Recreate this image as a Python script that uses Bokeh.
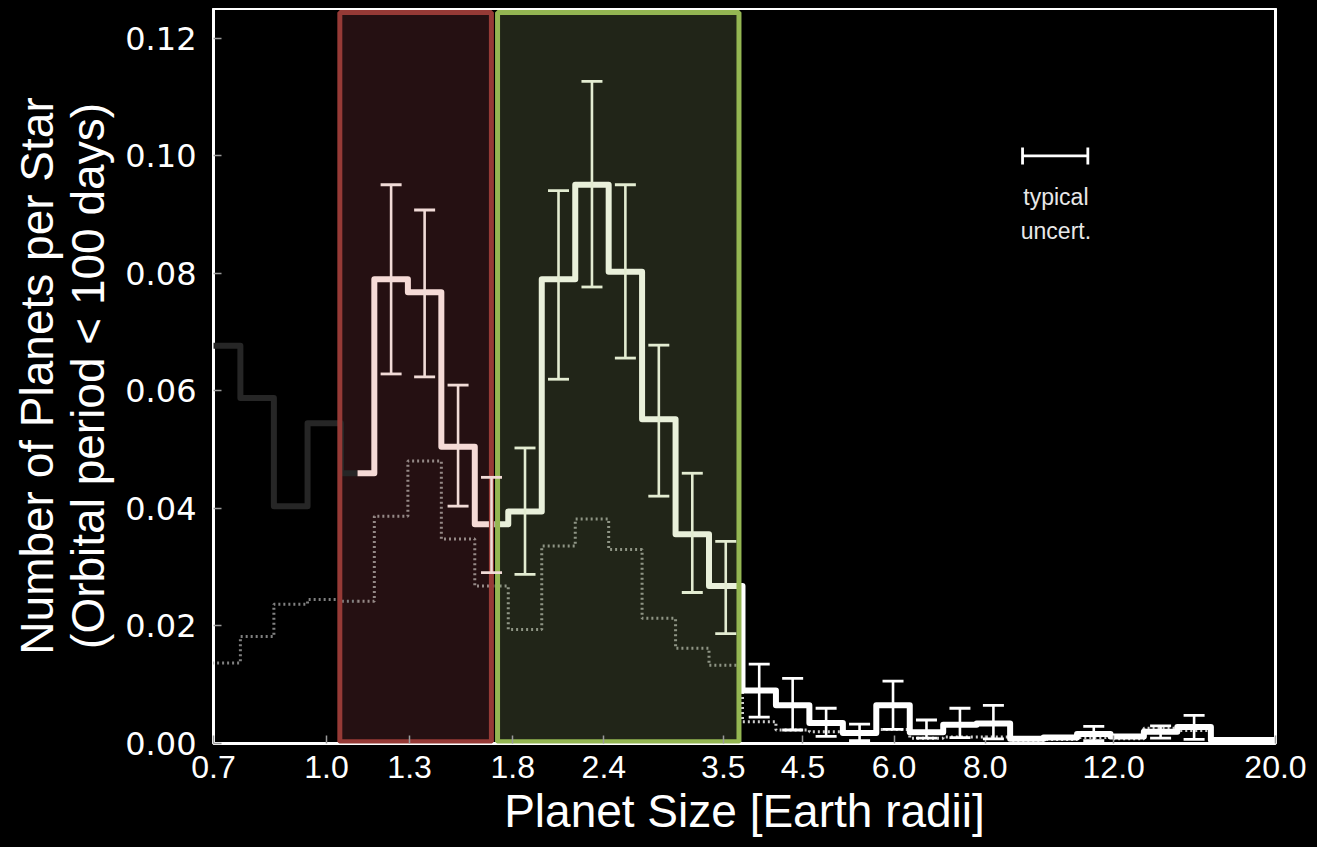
import numpy as np
from bokeh.plotting import figure
from bokeh.models import (FixedTicker, ColumnDataSource, Whisker, TeeHead,
                          Range1d, NumeralTickFormatter)
from bokeh.embed import file_html
from bokeh.resources import INLINE
from bokeh.core.properties import value

# ---------------- data ----------------
bin_edges = [0.686, 0.762, 0.847, 0.942, 1.047, 1.163, 1.293, 1.437, 1.597, 1.775,
             1.973, 2.193, 2.437, 2.708, 3.010, 3.345, 3.718, 4.132, 4.592, 5.104,
             5.672, 6.304, 7.006, 7.787, 8.654, 9.618, 10.69, 11.88, 13.20, 14.67,
             16.31, 18.12, 20.14]

completeness_corrected = [0.0677, 0.0588, 0.0404, 0.0545, 0.0460, 0.0790, 0.0768, 0.0505,
                          0.0373, 0.0395, 0.0790, 0.0951, 0.0803, 0.0552, 0.0356, 0.0268,
                          0.0090, 0.0065, 0.0035, 0.0018, 0.0065, 0.0019, 0.0032, 0.0034,
                          0.0008, 0.0010, 0.0016, 0.0012, 0.0020, 0.0028, 0.0006, 0.0006]

observed = [0.0137, 0.0182, 0.0237, 0.0245, 0.0242, 0.0387, 0.0481, 0.0348,
            0.0268, 0.0194, 0.0336, 0.0382, 0.0330, 0.0213, 0.0162, 0.0133,
            0.0037, 0.0023, 0.0020, 0.0016, 0.0024, 0.0009, 0.0011, 0.0011,
            0.0005, 0.0007, 0.0010, 0.0008, 0.0026, 0.0022, 0.0004, 0.0004]

err_bins = [5, 6, 7, 8, 9, 10, 11, 12, 13, 14, 15, 16, 17, 18, 19, 20, 21, 22, 23, 26, 28, 29]
err_low = [0.0629, 0.0624, 0.0404, 0.0291, 0.0288, 0.0620, 0.0777, 0.0656, 0.0421, 0.0257,
           0.0187, 0.0045, 0.0023, 0.0012, 0.0005, 0.0024, 0.0009, 0.0010, 0.0008, 0.0005,
           0.0009, 0.0007]
err_high = [0.0951, 0.0908, 0.0610, 0.0453, 0.0503, 0.0941, 0.1127, 0.0951, 0.0678, 0.0460,
            0.0344, 0.0135, 0.0111, 0.0060, 0.0033, 0.0106, 0.0040, 0.0060, 0.0065, 0.0029,
            0.0030, 0.0048]

x_ticks = [0.7, 1.0, 1.3, 1.8, 2.4, 3.5, 4.5, 6.0, 8.0, 12.0, 20.0]
x_tick_labels = ["0.7", "1.0", "1.3", "1.8", "2.4", "3.5", "4.5", "6.0", "8.0", "12.0", "20.0"]
y_ticks = [0.0, 0.02, 0.04, 0.06, 0.08, 0.10, 0.12]

# highlighted regions (super-Earths / sub-Neptunes)
red_region = (1.043, 1.683)
green_region = (1.716, 3.677)
color_breaks = [0.5, 1.103, 1.70, 3.68, 25.0]

typical_center = 10.0
typical_lo, typical_hi = 9.0, 11.06
typical_y = 0.100

# ---------------- figure ----------------
X0, X1 = 0.7, 20.0
Y0, Y1 = 0.0, 0.1251

p = figure(width=1305, height=831, x_axis_type="log",
           x_range=Range1d(X0, X1), y_range=Range1d(Y0, Y1),
           output_backend="svg", toolbar_location=None,
           background_fill_color="black", border_fill_color="black",
           min_border_top=0, min_border_right=38, min_border_left=203, min_border_bottom=10)
p.xgrid.visible = False
p.ygrid.visible = False
p.outline_line_color = "white"
p.outline_line_width = 3
p.outline_line_alpha = 1.0

# region fills
p.quad(left=[red_region[0]], right=[red_region[1]], bottom=[0.0003], top=[0.1244],
       fill_color="#251012", line_color=None)
p.quad(left=[green_region[0]], right=[green_region[1]], bottom=[0.0003], top=[0.1244],
       fill_color="#212518", line_color=None)


def step_path(edges, vals, a, b):
    xs, ys = [], []
    for i, v in enumerate(vals):
        lo, hi = max(edges[i], a), min(edges[i + 1], b)
        if hi <= lo:
            continue
        xs += [lo, hi]
        ys += [v, v]
    return xs, ys


# dotted observed histogram
dot_cols = ["#808080", "#958987", "#8f9585", "#cfcfcf"]
for k, c in enumerate(dot_cols):
    xs, ys = step_path(bin_edges, observed, color_breaks[k], color_breaks[k + 1])
    p.line(xs, ys, line_color=c, line_width=3, line_dash="2 3")

# solid corrected histogram
line_cols = ["#262626", "#f5dad6", "#e9f0da", "#ffffff"]
for k, c in enumerate(line_cols):
    xs, ys = step_path(bin_edges, completeness_corrected, color_breaks[k], color_breaks[k + 1])
    p.line(xs, ys, line_color=c, line_width=6, line_join="round")

# error bars
centers = [float(np.sqrt(bin_edges[i] * bin_edges[i + 1])) for i in err_bins]


def err_color(x):
    if x < color_breaks[2]:
        return "#f1dbd7"
    if x < color_breaks[3]:
        return "#e3ecd1"
    return "#ffffff"


for col in ["#f1dbd7", "#e3ecd1", "#ffffff"]:
    idx = [j for j, c in enumerate(centers) if err_color(c) == col]
    src = ColumnDataSource(dict(x=[centers[j] for j in idx],
                                lo=[err_low[j] for j in idx],
                                hi=[err_high[j] for j in idx]))
    w = Whisker(base="x", lower="lo", upper="hi", source=src, dimension="height",
                line_color=col, line_width=2.6, level="annotation",
                upper_head=TeeHead(size=21, line_color=col, line_width=2.8),
                lower_head=TeeHead(size=21, line_color=col, line_width=2.8))
    p.add_layout(w)

# region borders on top
p.quad(left=[red_region[0]], right=[red_region[1]], bottom=[0.0003], top=[0.1244],
       fill_color=None, line_color="#963a36", line_width=5)
p.quad(left=[green_region[0]], right=[green_region[1]], bottom=[0.0003], top=[0.1244],
       fill_color=None, line_color="#94b652", line_width=5)

# typical uncertainty
tsrc = ColumnDataSource(dict(y=[typical_y], lo=[typical_lo], hi=[typical_hi]))
p.add_layout(Whisker(base="y", lower="lo", upper="hi", source=tsrc, dimension="width",
                     line_color="white", line_width=2.8, level="annotation",
                     upper_head=TeeHead(size=17, line_color="white", line_width=2.8),
                     lower_head=TeeHead(size=17, line_color="white", line_width=2.8)))
p.text(x=[typical_center, typical_center], y=[0.0931, 0.0873], text=["typical", "uncert."],
       text_color="#e8e8e8", text_font=value("Liberation Sans"), text_font_size="23px",
       text_align="center", text_baseline="middle")

# axes styling
xa = p.xaxis[0]
xa.ticker = FixedTicker(ticks=x_ticks, minor_ticks=[])
xa.major_label_overrides = {t: s for t, s in zip(x_ticks, x_tick_labels)}
xa.axis_label = "Planet Size [Earth radii]"
ya = p.yaxis[0]
ya.ticker = FixedTicker(ticks=y_ticks, minor_ticks=[])
ya.formatter = NumeralTickFormatter(format="0.00")
ya.axis_label = "Number of Planets per Star\n(Orbital period < 100 days)"

for ax in (xa, ya):
    ax.axis_line_color = None
    ax.major_tick_in = 8
    ax.major_tick_out = 0
    ax.major_tick_line_color = "#9a9a9a"
    ax.major_tick_line_width = 1.5
    ax.minor_tick_line_color = None
    ax.major_label_text_color = "white"
    ax.axis_label_text_color = "white"
    ax.axis_label_text_font_style = "normal"

xa.major_label_text_font = "Liberation Sans"
xa.major_label_text_font_size = "32px"
xa.major_label_standoff = 12
xa.axis_label_text_font = "Liberation Sans"
xa.axis_label_text_font_size = "46px"
xa.axis_label_standoff = 4

ya.major_label_text_font = "DejaVu Sans"
ya.major_label_text_font_size = "32px"
ya.major_label_standoff = 17
ya.axis_label_text_font = "Liberation Sans"
ya.axis_label_text_font_size = "46px"
ya.axis_label_text_line_height = 0.98
ya.axis_label_standoff = 8

html = file_html(p, INLINE)
html = html.replace("<body>", "<body style=\"background:black;margin:8px;\">")
open("out.html", "w").write(html)
